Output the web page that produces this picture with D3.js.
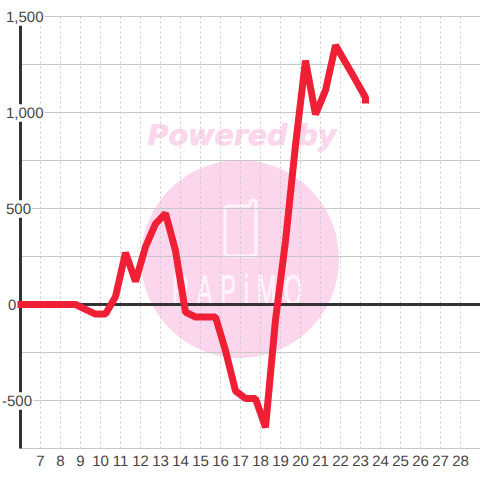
<!DOCTYPE html>
<html>
<head>
<meta charset="utf-8">
<script src="https://cdn.jsdelivr.net/npm/d3@7"></script>
<style>
    html, body { margin: 0; padding: 0; background: #fff; }
    svg { display: block; }
    text { text-rendering: geometricPrecision; }
</style>
</head>
<body>
<svg id="chart"></svg>
<script>
// x ticks (hour of day) and y ticks
const hourTicks = [7, 8, 9, 10, 11, 12, 13, 14, 15, 16, 17, 18, 19, 20, 21, 22, 23, 24, 25, 26, 27, 28];
const valueTicks = [1500, 1000, 500, 0, -500];
const gridValues = [1500, 1250, 1000, 750, 500, 250, -250, -500, -750];

// series: the last hour appears twice, the line stops on a short vertical piece
const hours = [5.85, 6.25, 6.75, 7.25, 7.75, 8.25, 8.75, 9.25, 9.75, 10.25, 10.75, 11.25, 11.75, 12.25, 12.75, 13.25, 13.75, 14.25, 14.75, 15.25, 15.75, 16.25, 16.75, 17.25, 17.75, 18.25, 18.75, 19.25, 19.75, 20.25, 20.75, 21.25, 21.75, 22.25, 22.75, 23.25, 23.25];
const values = [0, 0, 0, 0, 0, 0, 0, -25, -50, -50, 40, 270, 120, 300, 420, 475, 280, -40, -65, -65, -65, -240, -450, -490, -490, -640, -80, 330, 830, 1270, 990, 1115, 1350, 1260, 1170, 1078, 1047];

const width = 480;
const height = 480;
const svg = d3.select("#chart").attr("width", width).attr("height", height);

const x = d3.scaleLinear().domain([6, 29]).range([20.5, 480.5]);
const y = d3.scaleLinear().domain([-750, 1500]).range([448.5, 16.5]);

const gridColor = "#c8c8c8";
const darkColor = "#333333";
const textColor = "#444444";
const logoColor = "#fbd6ed";

// Watermark sits under the grid
const mark = svg.append("g");
mark.append("circle").attr("cx", 240).attr("cy", 259).attr("r", 99).attr("fill", logoColor);
mark.append("text")
    .attr("x", 242).attr("y", 145)
    .attr("text-anchor", "middle")
    .attr("font-family", "'DejaVu Sans'")
    .attr("font-size", 28.5)
    .attr("font-weight", "bold")
    .attr("font-style", "italic")
    .attr("fill", logoColor)
    .attr("stroke", logoColor)
    .attr("stroke-width", 0.6)
    .text("Powered by");
mark.append("path")
    .attr("d", "M250 206H229Q225 206 225 210V252Q225 256 229 256H252Q256 256 256 252V203Q256 200 253 200Q250 200 250 203V206")
    .attr("fill", "none")
    .attr("stroke", "#fff4fa")
    .attr("stroke-width", 3);
// Squeezed sideways and spaced out, the logo letters are tall and narrow
mark.append("text")
    .attr("transform", "translate(172,305) scale(0.55,1)")
    .attr("font-family", "'Liberation Sans'")
    .attr("font-size", 43)
    .attr("letter-spacing", 14)
    .attr("fill", "#fff4fa")
    .attr("stroke", "#fff4fa")
    .attr("stroke-width", 0.8)
    .text("RAPiMO");

// Grid
svg.append("g").selectAll("line").data(hourTicks).join("line")
    .attr("x1", d => x(d)).attr("x2", d => x(d))
    .attr("y1", y(1500)).attr("y2", y(-750))
    .attr("stroke", gridColor)
    .attr("stroke-dasharray", "2,3");

svg.append("g").selectAll("line").data(gridValues).join("line")
    .attr("x1", x(6)).attr("x2", width)
    .attr("y1", d => y(d)).attr("y2", d => y(d))
    .attr("stroke", gridColor);

// Axis lines
svg.append("line")
    .attr("x1", x(6)).attr("x2", x(6))
    .attr("y1", y(1500)).attr("y2", y(-750))
    .attr("stroke", darkColor).attr("stroke-width", 3);
svg.append("line")
    .attr("x1", x(6)).attr("x2", width)
    .attr("y1", y(0)).attr("y2", y(0))
    .attr("stroke", darkColor).attr("stroke-width", 3);

// Labels of the y axis carry a white box that hides the lines behind them
const labelX = d => d < 0 ? 2 : d === 0 ? 8 : 6;
const yLabels = svg.append("g").selectAll("g").data(valueTicks).join("g");
const yTexts = yLabels.append("text")
    .attr("x", labelX)
    .attr("y", d => y(d))
    .attr("dy", "0.35em")
    .attr("font-family", "'Liberation Sans'")
    .attr("font-size", 15)
    .attr("fill", textColor)
    .text(d => d3.format(",")(d).replace("\u2212", "-"));
yTexts.each(function () {
    const box = this.getBBox();
    d3.select(this.parentNode).insert("rect", "text")
        .attr("x", box.x - 1).attr("y", box.y - 0.5)
        .attr("width", box.width + 2).attr("height", box.height + 0.5)
        .attr("fill", "#fff");
});

// Labels of the x axis
svg.append("g").selectAll("text").data(hourTicks).join("text")
    .attr("x", d => x(d))
    .attr("y", 466)
    .attr("text-anchor", "middle")
    .attr("font-family", "'Liberation Sans'")
    .attr("font-size", 15)
    .attr("fill", textColor)
    .text(d => d);

// Series
const line = d3.line().x(d => x(d[0])).y(d => y(d[1]));
svg.append("path")
    .datum(d3.zip(hours, values))
    .attr("d", line)
    .attr("fill", "none")
    .attr("stroke", "#ef2036")
    .attr("stroke-width", 7)
    .attr("stroke-linejoin", "bevel");
</script>
</body>
</html>
